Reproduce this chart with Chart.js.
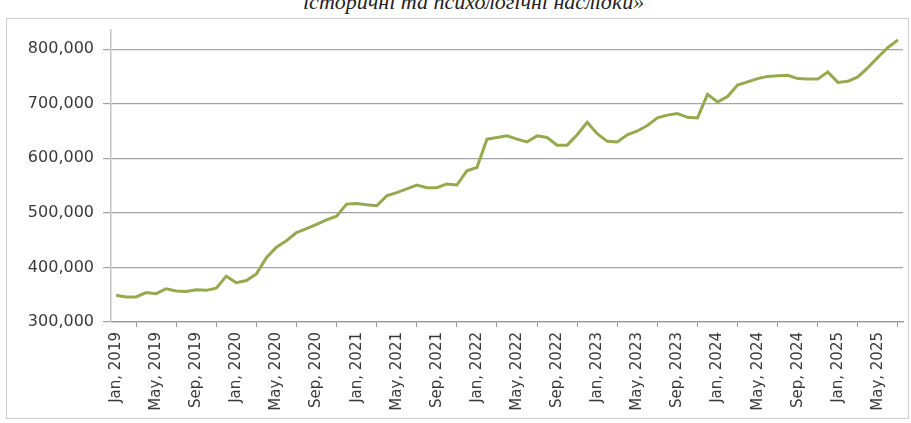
<!DOCTYPE html>
<html>
<head>
<meta charset="utf-8">
<script src="https://cdn.jsdelivr.net/npm/chart.js@4"></script>
<style>
  html, body { margin: 0; padding: 0; background: #fff; }
  #wrap { position: relative; width: 911px; height: 423px; overflow: hidden; background: #fff; }
  #title { position: absolute; left: 303px; top: -9px; font: italic 22px "Liberation Serif", "DejaVu Serif", serif; color: #222; white-space: nowrap; line-height: 22px; }
  #frame { position: absolute; left: 6px; top: 18px; width: 903px; height: 401px; border: 1px solid #cfcfcf; box-sizing: border-box; }
  #c { position: absolute; left: 0; top: 0; }
</style>
</head>
<body>
<div id="wrap">
  <div id="title">історичні та психологічні наслідки»</div>
  <div id="frame"></div>
  <canvas id="c" width="911" height="423"></canvas>
</div>
<script>
const monthNames = ['Jan','Feb','Mar','Apr','May','Jun','Jul','Aug','Sep','Oct','Nov','Dec'];
const years = [2019, 2020, 2021, 2022, 2023, 2024, 2025];
const lastMonthIndex2025 = 6; // Jul 2025
const categories = [];
years.forEach(y => monthNames.forEach((m, mi) => {
  if (y < 2025 || mi <= lastMonthIndex2025) categories.push(m + ', ' + y);
}));

const values = [
  349000, 346000, 346000, 354000, 352000, 361000, 357000, 356000, 359000, 358000, 362000, 384000,
  372000, 376000, 388000, 418000, 437000, 449000, 464000, 471000, 479000, 487000, 494000, 516000,
  517000, 515000, 513000, 531000, 537000, 544000, 551000, 546000, 546000, 553000, 551000, 577000,
  583000, 635000, 638000, 641000, 635000, 630000, 641000, 638000, 624000, 624000, 643000, 666000,
  645000, 631000, 630000, 643000, 650000, 660000, 674000, 679000, 682000, 675000, 674000, 717000,
  703000, 713000, 734000, 740000, 746000, 750000, 751000, 752000, 746000, 745000, 745000, 758000,
  739000, 741000, 749000, 766000, 785000, 803000, 817000
];

const yTicks = [300000, 400000, 500000, 600000, 700000, 800000];
const labelEvery = 4;

new Chart(document.getElementById('c'), {
  type: 'line',
  data: {
    labels: categories,
    datasets: [{
      data: values,
      borderColor: '#96a94f',
      borderWidth: 3,
      pointRadius: 0,
      tension: 0,
      fill: false
    }]
  },
  options: {
    responsive: false,
    animation: false,
    devicePixelRatio: 1,
    layout: { padding: { top: 30, right: 8, bottom: 0, left: 0 } },
    plugins: { legend: { display: false }, title: { display: false }, tooltip: { enabled: false } },
    scales: {
      x: {
        type: 'category',
        offset: true,
        grid: {
          offset: true,
          drawOnChartArea: false,
          drawTicks: true,
          tickLength: 5,
          color: '#9a9a9a'
        },
        border: { display: true, color: '#9a9a9a', width: 1.2 },
        ticks: {
          autoSkip: false,
          minRotation: 90,
          maxRotation: 90,
          padding: 5,
          color: '#3a3a3a',
          font: { family: 'DejaVu Sans', size: 15 },
          callback: function(v, i) { return i % labelEvery === 0 ? this.getLabelForValue(v) : null; }
        },
        afterFit: s => { s.height = 101; }
      },
      y: {
        min: 300000,
        max: 835000,
        afterBuildTicks: s => { s.ticks = yTicks.map(v => ({ value: v })); },
        grid: { color: '#a3a3a3', lineWidth: 1.2, tickLength: 8, drawTicks: true },
        border: { display: true, color: '#c4c4c4', width: 1.5 },
        ticks: {
          padding: 9,
          color: '#3a3a3a',
          font: { family: 'DejaVu Sans', size: 16 },
          callback: v => v.toLocaleString('en-US')
        },
        afterFit: s => { s.width = 111; }
      }
    }
  }
});
</script>
</body>
</html>
